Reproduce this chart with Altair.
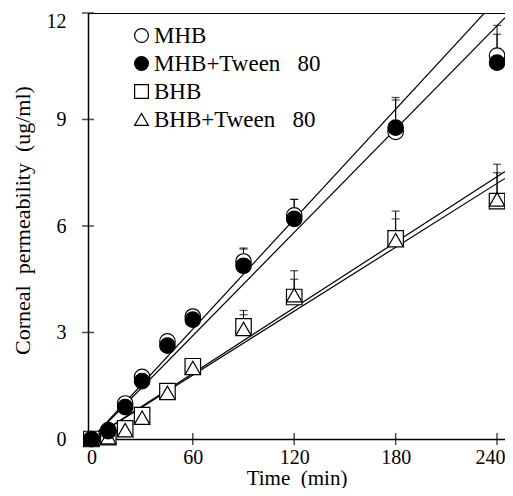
import altair as alt
import pandas as pd

# ---- data ----
times = [0, 10, 20, 30, 45, 60, 90, 120, 180, 240]
series_names = ["MHB", "MHB+Tween\u00a0\u00a0\u00a080", "BHB", "BHB+Tween\u00a0\u00a0\u00a080"]
draw_order = [0, 3, 1, 2]
mhb = [0, 0.25, 1.0, 1.75, 2.75, 3.45, 5.0, 6.3, 8.65, 10.8]
mhb_tween = [0, 0.22, 0.9, 1.63, 2.63, 3.36, 4.88, 6.2, 8.77, 10.6]
bhb = [0, 0.05, 0.3, 0.67, 1.35, 2.05, 3.17, 4.0, 5.65, 6.7]
bhb_tween = [0, 0.05, 0.25, 0.6, 1.3, 2.0, 3.1, 4.05, 5.6, 6.75]
err_mhb = [0, 0, 0.1, 0.1, 0.1, 0.1, 0.35, 0.45, 0.9, 0.85]
err_mhb_tween = [0, 0, 0.1, 0.1, 0.1, 0.1, 0.5, 0.55, 0.85, 0.8]
err_bhb = [0, 0, 0.05, 0.05, 0.1, 0.1, 0.45, 0.74, 0.77, 1.04]
err_bhb_tween = [0, 0, 0.05, 0.05, 0.1, 0.1, 0.4, 0.45, 0.6, 0.75]
# fitted straight lines (slope per min, intercept)
fit_slopes = [0.0516, 0.0485, 0.0300, 0.0308]
fit_intercepts = [0.0, 0.0, 0.0, 0.0]
x_ticks = [0, 60, 120, 180, 240]
y_ticks = [0, 3, 6, 9, 12]

x_dom = [-2.0, 244.7]
y_dom = [0, 12]

values = [mhb, mhb_tween, bhb, bhb_tween]
errs = [err_mhb, err_mhb_tween, err_bhb, err_bhb_tween]
rows = []
for name, o, vals, es in zip(series_names, draw_order, values, errs):
    for t, v, e in zip(times, vals, es):
        rows.append({"series": name, "ord": o, "t": t, "v": v, "top": v + e, "err": e})
df = pd.DataFrame(rows)

fit_rows = []
for name, a, b in zip(series_names, fit_slopes, fit_intercepts):
    for t in (0, x_dom[1]):
        fit_rows.append({"series": name, "t": t, "v": a * t + b})
df_fit = pd.DataFrame(fit_rows)

FONT = "Liberation Serif"
W, H = 417, 426

xs = alt.Scale(domain=x_dom, nice=False, zero=False)
ys = alt.Scale(domain=y_dom, nice=False, zero=False)

x_enc = alt.X("t:Q", scale=xs, axis=alt.Axis(
    values=x_ticks, title="Time\u00a0\u00a0(min)", labelPadding=8, titlePadding=0,
    titleFontSize=21, labelOffset={"expr": "datum.value == 240 ? -7 : 0"}))
y_enc = alt.Y("v:Q", scale=ys, axis=alt.Axis(
    values=y_ticks, title="Corneal\u00a0\u00a0permeability\u00a0\u00a0(ug/ml)",
    labelPadding=22, titlePadding=12, titleFontSize=22, titleY=207,
    labelOffset={"expr": "datum.value == 12 ? 8 : 0"}))

lines = alt.Chart(df_fit).mark_line(color="black", strokeWidth=1.2, clip=True).encode(
    x=x_enc, y=y_enc, detail="series:N")

err_df = df[df["err"] > 0]
stems = alt.Chart(err_df).mark_rule(color="black", strokeWidth=1).encode(
    x=alt.X("t:Q", scale=xs), y=alt.Y("v:Q", scale=ys), y2="top:Q")
caps = alt.Chart(err_df).mark_tick(orient="horizontal", color="black", size=8,
                                   thickness=1.2).encode(
    x=alt.X("t:Q", scale=xs), y=alt.Y("top:Q", scale=ys))

leg = alt.Legend(orient="none", legendX=42, legendY=11, title=None)
points = alt.Chart(df).mark_point(filled=True, strokeWidth=1.2,
                                  size=240, opacity=1).encode(
    x=alt.X("t:Q", scale=xs), y=alt.Y("v:Q", scale=ys),
    shape=alt.Shape("series:N", scale=alt.Scale(
        domain=series_names, range=["circle", "circle", "square", "triangle-up"]),
        legend=leg),
    fill=alt.Fill("series:N", scale=alt.Scale(
        domain=series_names, range=["white", "black", "white", "white"]), legend=leg),
    stroke=alt.Stroke("series:N", scale=alt.Scale(
        domain=series_names, range=["black", "black", "black", "black"]), legend=leg),
    order=alt.Order("ord:Q"))

ytick_df = pd.DataFrame({"v": y_ticks[1:]})
xtick_df = pd.DataFrame({"t": x_ticks[1:]})
yticks = alt.Chart(ytick_df).mark_tick(orient="horizontal", color="black", size=12,
                                       thickness=1.5).encode(
    y=alt.Y("v:Q", scale=ys), x=alt.value(0))
xticks = alt.Chart(xtick_df).mark_tick(orient="vertical", color="black", size=12,
                                       thickness=1.5).encode(
    x=alt.X("t:Q", scale=xs), y=alt.value(H))

chart = alt.layer(lines, stems, caps, points, yticks, xticks).properties(
    width=W, height=H,
    autosize=alt.AutoSizeParams(type="none"),
    padding={"left": 80, "top": 5, "right": 0, "bottom": 49},
    background="white",
).configure_view(stroke="black", strokeWidth=1).configure_axis(
    grid=False, ticks=False, domainColor="black", domainWidth=1.5,
    labelColor="black", titleColor="black", titleFontWeight="normal",
    labelFont=FONT, titleFont=FONT, labelFontSize=20, titleFontSize=20
).configure_legend(
    labelFont=FONT, labelFontSize=23, labelColor="black", symbolSize=190,
    rowPadding=4, labelOffset=1, padding=0, symbolStrokeWidth=1.2, labelLimit=400
)

chart.save("out.html", embed_options={"renderer": "svg", "actions": False})
